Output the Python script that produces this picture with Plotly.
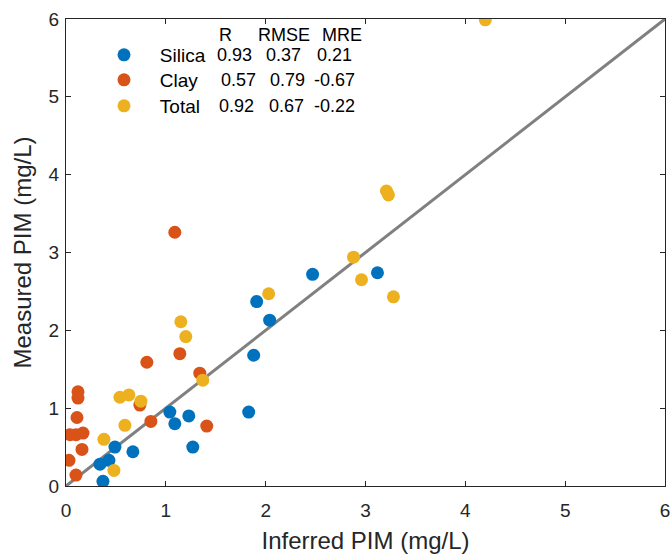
import plotly.graph_objects as go

# Data
silica_x = [0.37, 0.34, 0.43, 0.49, 0.67, 1.04, 1.09, 1.23, 1.27, 1.83, 1.88, 1.91, 2.04, 2.47, 3.12]
silica_y = [0.06, 0.28, 0.33, 0.50, 0.44, 0.95, 0.80, 0.90, 0.50, 0.95, 1.68, 2.37, 2.13, 2.72, 2.74]

clay_x = [1.09, 0.81, 1.14, 1.34, 0.85, 1.41, 0.74, 0.12, 0.12, 0.11, 0.04, 0.10, 0.17, 0.16, 0.03, 0.10]
clay_y = [3.26, 1.59, 1.70, 1.45, 0.83, 0.77, 1.04, 1.21, 1.13, 0.88, 0.66, 0.66, 0.68, 0.47, 0.33, 0.14]

total_x = [4.20, 2.88, 2.96, 3.21, 3.23, 3.28, 2.03, 1.15, 1.20, 1.37, 0.54, 0.63, 0.75, 0.59, 0.38, 0.48]
total_y = [5.99, 2.94, 2.65, 3.79, 3.74, 2.43, 2.47, 2.11, 1.92, 1.36, 1.14, 1.17, 1.09, 0.78, 0.60, 0.20]

one_to_one = [0, 6]

series_names = ["Silica", "Clay", "Total"]
stat_headers = ["R", "RMSE", "MRE"]
stats = [["0.93", "0.37", "0.21"],
         ["0.57", "0.79", "-0.67"],
         ["0.92", "0.67", "-0.22"]]

ticks = [0, 1, 2, 3, 4, 5, 6]

colors = ["#0072BD", "#D95319", "#EDB120"]
FONT = "Liberation Sans, Arial, sans-serif"
AX = "#262626"

W, H = 671, 554
L, R, T, B = 66, 6, 19, 68
pw, ph = W - L - R, H - T - B

def px2paper(px, py):
    return (px - L) / pw, (H - B - py) / ph

fig = go.Figure()
fig.add_trace(go.Scatter(x=one_to_one, y=one_to_one, mode="lines",
                         line=dict(color="#808080", width=3), showlegend=False,
                         hoverinfo="skip"))
legend_ids = ["legend", "legend2", "legend3"]
for name, xs, ys, c, lg in zip(series_names, [silica_x, clay_x, total_x],
                               [silica_y, clay_y, total_y], colors, legend_ids):
    fig.add_trace(go.Scatter(x=xs, y=ys, mode="markers", name="\u00a0\u00a0\u00a0" + name,
                             legend=lg,
                             marker=dict(color=c, size=13, line=dict(width=0))))

ann = []
hx = [217, 256, 320]
for h, x0 in zip(stat_headers, hx):
    xp, yp = px2paper(x0, 35)
    ann.append(dict(x=xp, y=yp, xref="paper", yref="paper", text=h, showarrow=False,
                    xanchor="left", yanchor="middle", font=dict(size=18, color="black", family=FONT)))
col_x = [[215, 264, 315], [219, 268, 312], [217, 267, 312]]
row_y = [55, 80, 106]
for row, xs, y0 in zip(stats, col_x, row_y):
    for v, x0 in zip(row, xs):
        xp, yp = px2paper(x0, y0)
        ann.append(dict(x=xp, y=yp, xref="paper", yref="paper", text=v, showarrow=False,
                        xanchor="left", yanchor="middle", font=dict(size=18, color="black", family=FONT)))

axis_common = dict(range=[0, 6], tickvals=ticks, ticks="inside", ticklen=5, tickwidth=1,
                   tickcolor=AX, showline=True, linecolor=AX, linewidth=1, mirror="ticks",
                   showgrid=False, zeroline=False, automargin=False,
                   tickfont=dict(size=19, color=AX, family=FONT))

legends = {}
for lg, y0 in zip(legend_ids, row_y):
    legends[lg] = dict(x=px2paper(104, 0)[0], y=px2paper(0, y0)[1], xanchor="left", yanchor="middle",
                       bgcolor="rgba(0,0,0,0)", font=dict(size=19, color="black", family=FONT))

fig.update_layout(
    width=W, height=H,
    margin=dict(l=L, r=R, t=T, b=B),
    plot_bgcolor="white", paper_bgcolor="white",
    font=dict(family=FONT, color=AX),
    xaxis=dict(**axis_common, ticklabelstandoff=7,
               title=dict(text="Inferred PIM (mg/L)", font=dict(size=24, color=AX, family=FONT), standoff=14)),
    yaxis=dict(**axis_common, ticklabelstandoff=2,
               title=dict(text="Measured PIM (mg/L)", font=dict(size=24, color=AX, family=FONT), standoff=10)),
    annotations=ann,
    **legends,
)

fig.write_html("out.html")
